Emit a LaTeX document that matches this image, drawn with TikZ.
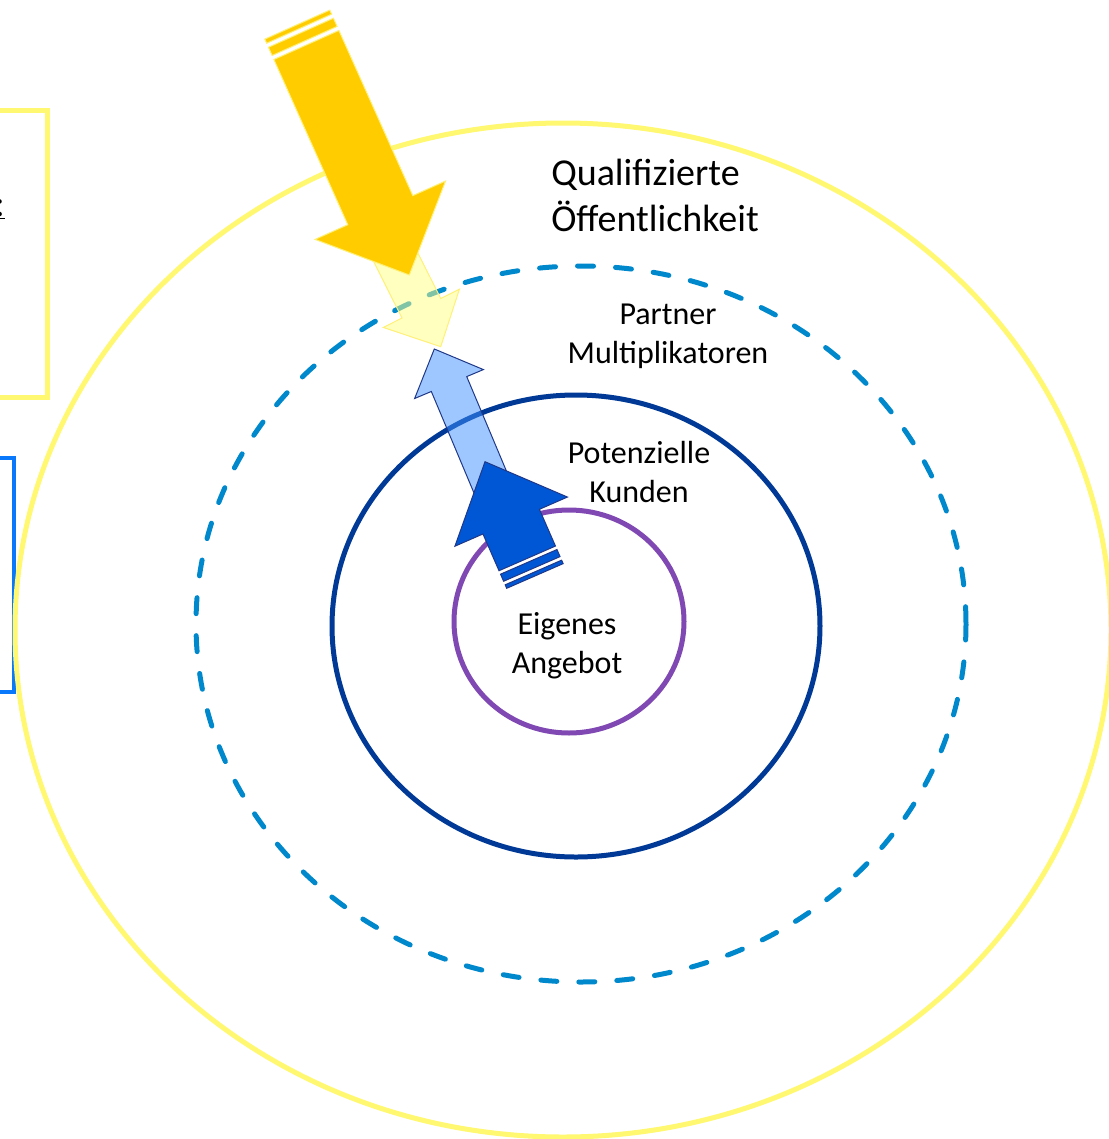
\documentclass[tikz,border=0pt]{standalone}
\usepackage{fontspec}
\setmainfont{Carlito}
\definecolor{ringyellow}{RGB}{255,248,112}
\definecolor{dashblue}{RGB}{0,136,204}
\definecolor{circblue}{RGB}{0,58,150}
\definecolor{circpurple}{RGB}{128,72,178}
\definecolor{boxblue}{RGB}{10,120,250}
\definecolor{arrowyellow}{RGB}{255,204,0}
\definecolor{paleyellow}{RGB}{255,255,128}
\definecolor{paleedge}{RGB}{255,240,120}
\definecolor{lightblue}{RGB}{64,144,255}
\definecolor{darkarrow}{RGB}{0,87,214}
\definecolor{navy}{RGB}{31,56,136}
\begin{document}
\begin{tikzpicture}[x=0.75pt,y=-0.75pt]
\tikzset{
  lbl/.style={align=center, font=\fontsize{24}{29.3}\selectfont, inner sep=0pt},
  ring/.style={line width=3.75pt},
}
\useasboundingbox (0,0) rectangle (1109,1139);
\clip (0,0) rectangle (1109,1139);
% partial boxes at the left edge
\draw[ringyellow, line width=3.75pt] (-40,110) rectangle (47,397);
\draw[boxblue, line width=3pt] (-40,458) rectangle (14,692);
\node[font=\fontsize{28.5}{34}\selectfont, anchor=base east, inner sep=0pt] (cut) at (5,216) {\underline{:}};
% rings
\draw[ring, ringyellow] (563,630) ellipse [x radius=548, y radius=507];
\draw[ring, dashblue, dash pattern=on 12pt off 16.5pt, line cap=round] (581,624) ellipse [x radius=385, y radius=358];
\draw[ring, circblue] (576,626) ellipse [x radius=244, y radius=231];
\draw[ring, circpurple] (569,621.5) ellipse [x radius=115, y radius=111.5];
% pale yellow arrow
\begin{scope}[shift={(440.7,346.7)}, x=0.75pt, y=0.75pt, rotate=-63.3]
\filldraw[fill=paleyellow, fill opacity=0.5, draw=paleedge, line width=0.75pt]
  (0,0) -- (-43,42.6) -- (-43,21.7) -- (-150,21.7) -- (-150,-21.7) -- (-43,-21.7) -- (-43,-42.6) -- cycle;
\end{scope}
% big yellow arrow
\begin{scope}[shift={(409.3,275)}, x=0.75pt, y=0.75pt, rotate=-65.9]
\filldraw[fill=arrowyellow, draw=paleedge, line width=0.75pt]
  (0,0) -- (-71,71.5) -- (-71,35.6) -- (-252,35.6) -- (-252,-35.6) -- (-71,-35.6) -- (-71,-71.5) -- cycle;
\filldraw[fill=arrowyellow, draw=paleedge, line width=0.75pt] (-265.4,-35.6) rectangle (-256.4,35.6);
\filldraw[fill=arrowyellow, draw=paleedge, line width=0.75pt] (-274.3,-35.6) rectangle (-269.8,35.6);
\end{scope}
% light blue arrow
\begin{scope}[shift={(434.3,349)}, x=0.75pt, y=0.75pt, rotate=112.8]
\filldraw[fill=lightblue, fill opacity=0.5, draw=navy, line width=0.75pt]
  (0,0) -- (-38,37.3) -- (-38,19.2) -- (-165,19.2) -- (-165,-19.2) -- (-38,-19.2) -- (-38,-37.3) -- cycle;
\end{scope}
% dark blue arrow
\begin{scope}[shift={(485,461.7)}, x=0.75pt, y=0.75pt, rotate=113.6]
\filldraw[fill=darkarrow, draw=navy, line width=0.75pt]
  (0,0) -- (-65.4,61.4) -- (-65.4,30.8) -- (-105.5,30.8) -- (-105.5,-30.8) -- (-65.4,-30.8) -- (-65.4,-61.4) -- cycle;
\filldraw[fill=darkarrow, draw=navy, line width=0.75pt] (-117,-30.8) rectangle (-109.3,30.8);
\filldraw[fill=darkarrow, draw=navy, line width=0.75pt] (-124.7,-30.8) rectangle (-120.9,30.8);
\end{scope}
% labels
\node[lbl, font=\fontsize{28.5}{34.5}\selectfont, align=left, anchor=west] (qual) at (551,195) {Qualifizierte\\Öffentlichkeit};
\node[lbl] (partner) at (668,336) {Partner\\Multiplikatoren};
\node[lbl] (kunden) at (639,472) {Potenzielle\\Kunden};
\node[lbl] (eigen) at (567,646) {Eigenes\\Angebot};
\end{tikzpicture}
\end{document}
